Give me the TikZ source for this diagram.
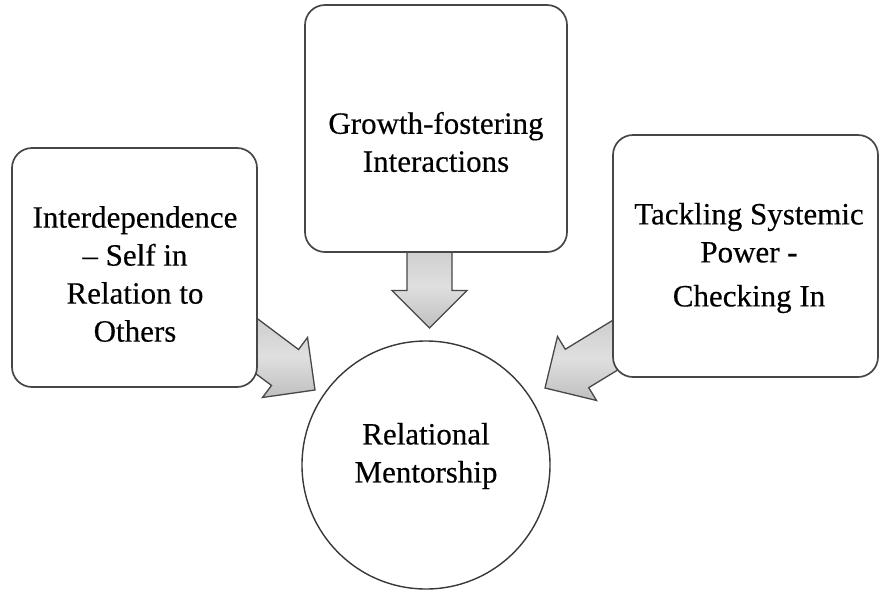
\documentclass[tikz,border=0pt]{standalone}
\usepackage{fontspec}
\setmainfont{Liberation Serif}
\newfontfamily\diagfont{Liberation Serif}[FakeBold=0.35]
\usetikzlibrary{calc}
\begin{document}
\begin{tikzpicture}[x=1pt,y=-1pt,
  box/.style={draw=black!72, line width=1.7pt, fill=white, rounded corners=20pt, inner sep=0pt},
  ring/.style={circle, draw=black!78, line width=1.4pt, fill=white, inner sep=0pt},
  lbl/.style={align=center, font=\diagfont\fontsize{31}{38}\selectfont, inner sep=0pt},
  arrowstyle/.style={draw=black!72, line width=1.3pt, line join=miter, top color=gray!40, bottom color=gray!50, middle color=gray!25},
  pics/blockarrow/.style={code={
    \draw[arrowstyle] (0,0) -- (-37.5,37.5) -- (-37.5,22.5) -- (-#1,22.5) -- (-#1,-22.5) -- (-37.5,-22.5) -- (-37.5,-37.5) -- cycle;}}
]
\useasboundingbox (0,0) rectangle (881,590);

% arrow tips near the circle
\coordinate (tipL) at (315,390);
\coordinate (tipT) at (429.5,328);
\coordinate (tipR) at (545,388);

% arrows (behind boxes)
\pic[rotate=-36.9] at (tipL) {blockarrow=95};
\pic[rotate=-90] at (tipT) {blockarrow=83};
\pic[rotate=211.4] at (tipR) {blockarrow=100};

% boxes
\node[box, minimum width=245pt, minimum height=239pt] (L) at (134.5,267.5) {};
\node[box, minimum width=262pt, minimum height=247pt] (T) at (436,128.5) {};
\node[box, minimum width=265pt, minimum height=242pt] (R) at (745.5,256) {};
\node[ring, minimum size=248pt] (C) at (426,465) {};

% texts
\node[lbl] (Lt) at (135,274) {Interdependence\\– Self in\\Relation to\\Others};
\node[lbl] (Tt) at (436,142) {Growth-fostering\\Interactions};
\node[lbl] (Rt) at (749,258) {Tackling Systemic\\Power -\\[6pt]Checking In};
\node[lbl] (Ct) at (426,456) {Relational\\Mentorship};
\end{tikzpicture}
\end{document}
